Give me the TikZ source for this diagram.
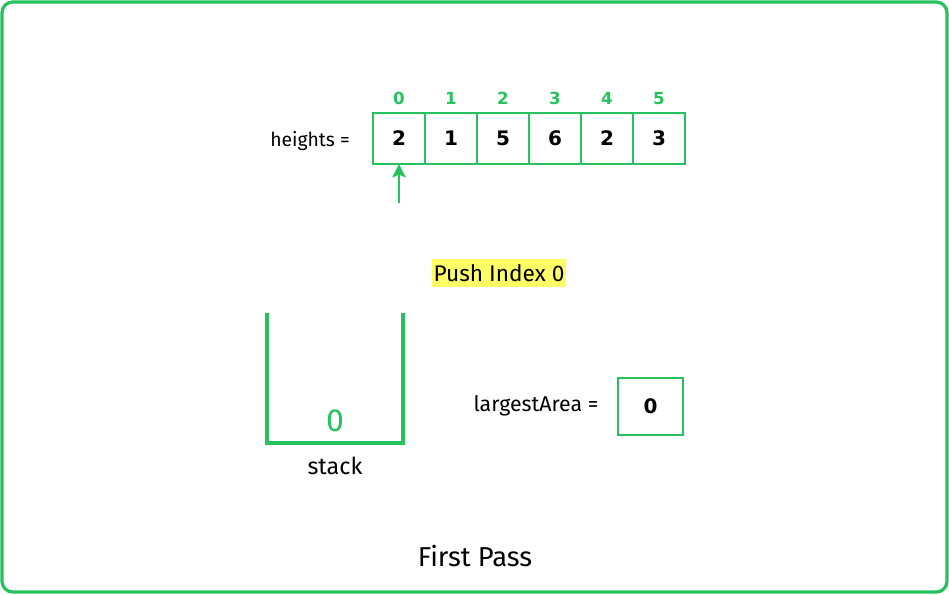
\documentclass[tikz,border=0pt]{standalone}
\usepackage{fontspec}
\usetikzlibrary{arrows.meta}
\setmainfont{Fira Sans}
\newfontfamily\numfont{DejaVu Sans}
\definecolor{gfg}{RGB}{37,194,93}
\definecolor{hl}{RGB}{255,255,102}
\begin{document}
\begin{tikzpicture}[x=0.75pt,y=-0.75pt,
  cell/.style={draw=gfg,line width=2.2pt,minimum width=52*0.75pt,minimum height=51*0.75pt,inner sep=0pt,outer sep=0pt,text height=11pt,text depth=0pt,font=\numfont\bfseries\fontsize{15}{17}\selectfont},
  idx/.style={text=gfg,text height=9pt,text depth=0pt,font=\numfont\bfseries\fontsize{12.5}{14}\selectfont},
  big/.style={font=\fontsize{17}{20}\selectfont}]
\useasboundingbox (0,0) rectangle (949,594);
\draw[gfg,line width=2.4pt,rounded corners=8pt] (2,2) rectangle (947,592);
\node[font=\fontsize{14.5}{17}\selectfont] (hl) at (310,141) {heights =};
\foreach \v [count=\i from 0] in {2,1,5,6,2,3}{
  \node[cell] (c\i) at (399+52*\i,138.5) {\v};
  \node[idx] (i\i) at (399+52*\i,98) {\i};
}
\coordinate (as) at (399,203);
\draw[gfg,line width=2.2pt,-{Stealth[length=10pt,width=10pt,inset=2pt]}] (as) -- (as |- c0.south);
\node[big,fill=hl,inner xsep=1pt,inner ysep=4pt] (push) at (499,273) {Push Index 0};
\coordinate (s1) at (267,313);
\coordinate (s2) at (267,443);
\coordinate (s3) at (403,443);
\coordinate (s4) at (403,313);
\draw[gfg,line width=3pt] (s1) -- (s2) -- (s3) -- (s4);
\node[text=gfg,font=\fontsize{24}{28}\selectfont] (s0) at (335,421) {0};
\node[font=\fontsize{17.5}{20}\selectfont] (st) at (335,466) {stack};
\node[font=\fontsize{16}{19}\selectfont] (la) at (536,406) {largestArea =};
\node[draw=gfg,line width=1.8pt,minimum width=65*0.75pt,minimum height=57*0.75pt,inner sep=0pt,text height=11pt,text depth=0pt,font=\numfont\bfseries\fontsize{15}{17}\selectfont] (lv) at (650.5,406.5) {0};
\node[font=\fontsize{20.5}{24}\selectfont] (fp) at (475,556) {First Pass};
\end{tikzpicture}
\end{document}
